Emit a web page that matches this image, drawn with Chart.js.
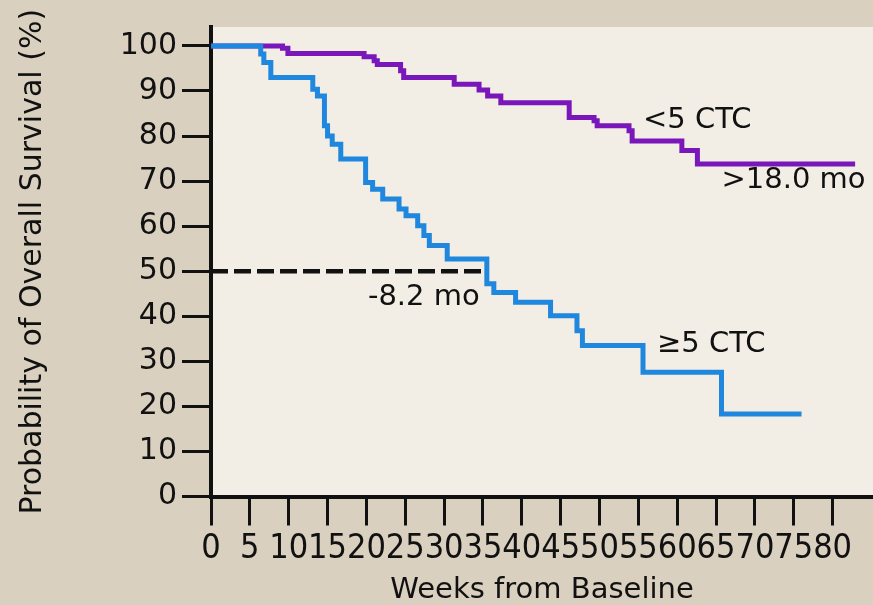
<!DOCTYPE html>
<html><head><meta charset="utf-8">
<script src="https://cdn.jsdelivr.net/npm/chart.js@4/dist/chart.umd.min.js"></script>
<style>html,body{margin:0;padding:0;background:#d9d0bf;overflow:hidden}canvas{display:block}</style>
</head><body>
<canvas id="c" width="873" height="605"></canvas>
<script>
// >=5 CTC group (weeks, survival %)
const highWeeks = [0, 6.4, 6.8, 7.7, 13.1, 13.7, 14.6, 15.0, 15.6, 16.7, 19.9, 20.8, 22.1, 24.2, 25.1, 26.6, 27.4, 28.1, 30.4, 35.5, 36.4, 39.2, 43.7, 47.1, 47.8, 55.6, 65.7, 76.0];
const highSurv  = [100, 98.2, 96.3, 93.0, 90.4, 88.9, 82.3, 80.0, 78.2, 74.9, 69.7, 68.2, 66.0, 63.8, 62.3, 60.1, 57.9, 55.7, 52.7, 47.2, 45.3, 43.1, 40.1, 36.8, 33.5, 27.6, 18.3, 18.3];
// <5 CTC group
const lowWeeks = [0, 9.2, 9.9, 19.7, 21.0, 21.4, 24.4, 24.8, 31.3, 34.5, 35.6, 37.3, 46.1, 49.3, 49.7, 53.8, 54.2, 60.6, 62.6, 82.9];
const lowSurv  = [100, 99.5, 98.3, 97.6, 96.7, 95.9, 94.5, 93.0, 91.5, 90.2, 88.9, 87.4, 84.1, 83.4, 82.3, 81.2, 78.9, 76.8, 73.8, 73.8];
// median reference line
const medianWeeks = [0, 35.5];
const medianSurv = [50, 50];
// ticks
const xTicks = [0, 5, 10, 15, 20, 25, 30, 35, 40, 45, 50, 55, 60, 65, 70, 75, 80];
const yTicks = [0, 10, 20, 30, 40, 50, 60, 70, 80, 90, 100];
// annotations (data coordinates)
const annotTexts = ['<5 CTC', '>18.0 mo', '-8.2 mo', '\u22655 CTC'];
const annotX = [55.6, 65.7, 20.2, 57.4];
const annotY = [83.5, 70.2, 44.2, 33.8];

const pts = (xs, ys) => xs.map((x, i) => ({x: x, y: ys[i]}));
const FONT = '"DejaVu Sans", "Liberation Sans", sans-serif';
const NARROW = '"Liberation Sans Narrow", "DejaVu Sans Condensed", sans-serif';

const bgPlugin = {
  id: 'bg',
  beforeDraw(chart) {
    const {ctx, chartArea: a} = chart;
    ctx.save();
    ctx.fillStyle = '#f3eee5';
    ctx.fillRect(a.left, a.top, a.right - a.left, a.bottom - a.top);
    ctx.restore();
  }
};
const annotPlugin = {
  id: 'annot',
  afterDatasetsDraw(chart) {
    const {ctx, scales} = chart;
    ctx.save();
    ctx.font = '29px ' + FONT;
    ctx.fillStyle = '#111';
    ctx.textAlign = 'left';
    ctx.textBaseline = 'middle';
    annotTexts.forEach((t, i) => {
      ctx.fillText(t, scales.x.getPixelForValue(annotX[i]), scales.y.getPixelForValue(annotY[i]));
    });
    ctx.restore();
  }
};

new Chart(document.getElementById('c'), {
  type: 'line',
  data: {
    datasets: [
      {data: pts(highWeeks, highSurv), borderColor: '#1f87dd', borderWidth: 5, stepped: 'before', pointRadius: 0, fill: false},
      {data: pts(medianWeeks, medianSurv), borderColor: '#111', borderWidth: 4.5, borderDash: [17, 6], pointRadius: 0, fill: false},
      {data: pts(lowWeeks, lowSurv), borderColor: '#7a17bb', borderWidth: 5, stepped: 'before', pointRadius: 0, fill: false}
    ]
  },
  options: {
    responsive: false,
    animation: false,
    devicePixelRatio: 1,
    layout: {padding: {top: 27, right: 0, left: 0, bottom: 0}},
    plugins: {legend: {display: false}, tooltip: {enabled: false}},
    scales: {
      x: {
        type: 'linear', min: 0, max: 85.2,
        afterBuildTicks: s => { s.ticks = xTicks.map(v => ({value: v})); },
        afterFit: s => { s.height = 108.5; },
        grid: {drawOnChartArea: false, drawTicks: true, tickLength: 29, tickWidth: 3, tickColor: '#111'},
        border: {display: true, color: '#111', width: 4},
        ticks: {font: {family: NARROW, size: 34}, color: '#111', padding: 3, maxRotation: 0, autoSkip: false},
        title: {display: true, text: 'Weeks from Baseline', font: {family: FONT, size: 29, lineHeight: 1.0}, color: '#111', padding: {top: 0, bottom: 0}}
      },
      y: {
        type: 'linear', min: 0, max: 104.2,
        afterBuildTicks: s => { s.ticks = yTicks.map(v => ({value: v})); },
        afterFit: s => { s.width = 211; },
        grid: {drawOnChartArea: false, drawTicks: true, tickLength: 29, tickWidth: 3, tickColor: '#111'},
        border: {display: true, color: '#111', width: 4},
        ticks: {font: {family: FONT, size: 30}, color: '#111', padding: 5},
        title: {display: true, text: 'Probability of Overall Survival (%)', font: {family: FONT, size: 30}, color: '#111', padding: {top: 15, bottom: 0}}
      }
    }
  },
  plugins: [bgPlugin, annotPlugin]
});
</script>
</body></html>
